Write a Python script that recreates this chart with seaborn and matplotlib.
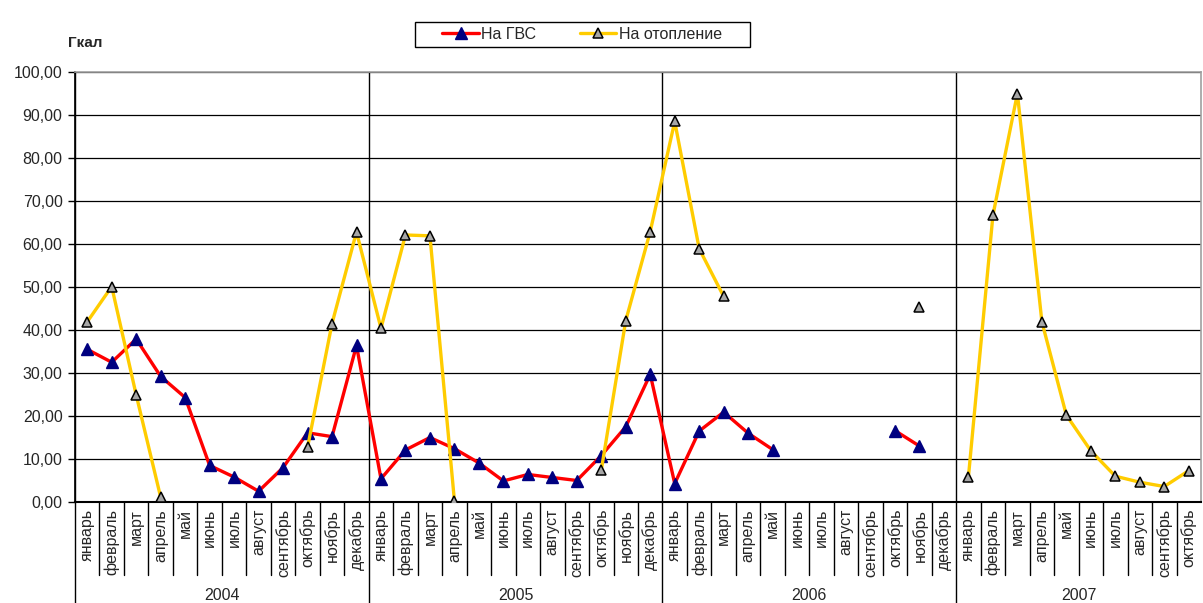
import numpy as np
import pandas as pd
import seaborn as sns
import matplotlib
matplotlib.use("Agg")
import matplotlib.pyplot as plt
from matplotlib.lines import Line2D
from matplotlib.patches import Rectangle
from matplotlib.ticker import FuncFormatter
from matplotlib.transforms import blended_transform_factory

# ---- data -------------------------------------------------------------
years = ["2004", "2005", "2006", "2007"]
months = ["январь", "февраль", "март", "апрель", "май", "июнь", "июль",
          "август", "сентябрь", "октябрь", "ноябрь", "декабрь"]
months_per_year = [12, 12, 12, 10]
nan = np.nan

hot_water = [35.5, 32.5, 37.9, 29.2, 24.3, 8.5, 5.8, 2.5, 8.0, 16.1, 15.2, 36.4,
             5.4, 12.1, 15.0, 12.4, 9.1, 4.9, 6.4, 5.7, 5.0, 10.8, 17.5, 29.7,
             4.3, 16.5, 20.9, 16.0, 12.2, nan, nan, nan, nan, 16.6, 13.0, nan,
             nan, nan, nan, nan, nan, nan, nan, nan, nan, nan]
heating = [41.9, 50.1, 24.9, 1.1, nan, nan, nan, nan, nan, 12.7, 41.5, 62.8,
           40.4, 62.1, 61.9, 0.3, nan, nan, nan, nan, nan, 7.4, 42.2, 62.9,
           88.5, 58.9, 47.8, nan, nan, nan, nan, nan, nan, nan, 45.4, nan,
           5.9, 66.7, 95.0, 41.9, 20.2, 11.9, 6.0, 4.6, 3.6, 7.3]

series_names = ["На ГВС", "На отопление"]
unit_label = "Гкал"

# ---- tidy frame with run ids so that gaps stay unconnected -------------
month_labels = [m for n in months_per_year for m in months[:n]]
n_cat = len(month_labels)


def tidy(values, name):
    rows, seg, prev = [], 0, False
    for i, v in enumerate(values):
        ok = not np.isnan(v)
        if ok and not prev:
            seg += 1
        if ok:
            rows.append({"idx": i, "value": v, "series": name, "segment": seg})
        prev = ok
    return pd.DataFrame(rows)


df_hw = tidy(hot_water, series_names[0])
df_ht = tidy(heating, series_names[1])

# ---- styling ------------------------------------------------------------
sns.set_style("white")
plt.rcParams["font.family"] = ["Liberation Sans", "DejaVu Sans"]
FS = 11.5

fig = plt.figure(figsize=(12.03, 6.03), dpi=100)
W, H = 1203, 603
ax = fig.add_axes([75 / W, (H - 502) / H, 1126 / W, 430 / H])

red, navy, gold = "#ff0000", "#000080", "#ffcc00"
hw_style = dict(color=red, lw=2.4, marker="^", markersize=9,
                markerfacecolor=navy, markeredgecolor=navy, markeredgewidth=1)
ht_style = dict(color=gold, lw=2.4, marker="^", markersize=7.5,
                markerfacecolor="#a6a6a6", markeredgecolor="black",
                markeredgewidth=1.1)

sns.lineplot(data=df_hw, x="idx", y="value", units="segment", estimator=None,
             legend=False, ax=ax, zorder=3, **hw_style)
sns.lineplot(data=df_ht, x="idx", y="value", units="segment", estimator=None,
             legend=False, ax=ax, zorder=4, **ht_style)

ax.set_xlim(-0.5, n_cat - 0.5)
ax.set_ylim(0, 100)
ax.set_xlabel("")
ax.set_ylabel("")

# y axis
ax.set_yticks(np.arange(0, 101, 10))
ax.yaxis.set_major_formatter(FuncFormatter(lambda v, _: f"{v:.2f}".replace(".", ",")))
ax.tick_params(axis="y", direction="out", length=5, width=1, color="black",
               labelsize=FS, pad=4, left=True)
ax.yaxis.grid(True, color="black", lw=0.9)
ax.set_axisbelow(True)

# x axis: month names
ax.set_xticks(range(n_cat))
ax.set_xticklabels(month_labels, rotation=90, fontsize=FS, va="top", ha="center")
ax.tick_params(axis="x", length=0, pad=5)

for side in ["top", "right"]:
    ax.spines[side].set_color("#a0a0a0")
    ax.spines[side].set_linewidth(1.2)
ax.spines["left"].set_color("black")
ax.spines["left"].set_linewidth(1.2)
ax.spines["bottom"].set_color("black")
ax.spines["bottom"].set_linewidth(1.5)

# category separators below the axis
blend = blended_transform_factory(ax.transData, ax.transAxes)
bounds = np.cumsum(months_per_year)[:-1] - 0.5
month_sep_depth = -73 / 430
year_sep_depth = -101 / 430
for b in np.arange(0.5, n_cat - 0.5, 1.0):
    if b in bounds:
        continue
    ax.plot([b, b], [0, month_sep_depth], transform=blend, color="black",
            lw=1, clip_on=False)
for b in list(bounds) + [-0.5]:
    ax.plot([b, b], [1, year_sep_depth], transform=blend, color="black",
            lw=1, clip_on=False, zorder=2)

# year labels
start = 0
for y, n in zip(years, months_per_year):
    ax.text(start + (n - 1) / 2, -93 / 430, y, transform=blend, ha="center",
            va="center", fontsize=FS)
    start += n

# unit label
fig.text(68 / W, 1 - 43 / H, unit_label, fontsize=11, fontweight="bold",
         ha="left", va="center")

# legend: entries without frame, box drawn as a separate rectangle
handles = [Line2D([], [], **hw_style), Line2D([], [], **ht_style)]
leg = fig.legend(handles, series_names, loc="center", ncol=2,
                 bbox_to_anchor=(582 / W, 1 - 34.5 / H), frameon=False,
                 fontsize=FS, handlelength=2.3, handletextpad=0.15,
                 columnspacing=2.7, borderpad=0.3, borderaxespad=0)
fig.add_artist(Rectangle((415 / W, 1 - 47 / H), 335 / W, 25 / H,
                         transform=fig.transFigure, fill=False,
                         edgecolor="black", lw=1))

fig.savefig("out.png", dpi=100, facecolor="white")
